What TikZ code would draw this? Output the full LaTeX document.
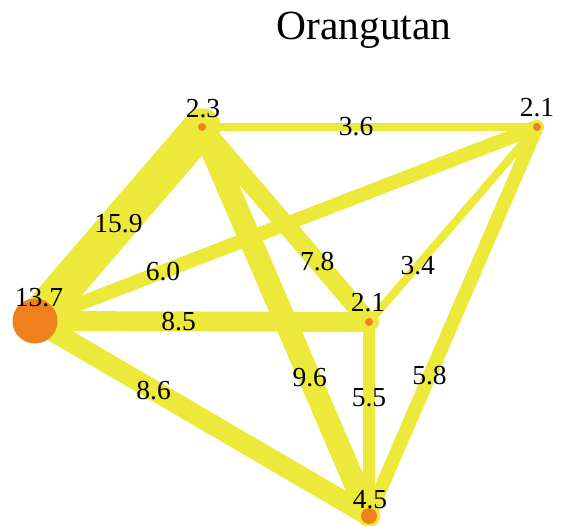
\documentclass[tikz,border=0pt]{standalone}
\usepackage{fontspec}
\setmainfont{Liberation Serif}
\usepackage{xcolor}
\usetikzlibrary{positioning}
\definecolor{edgeyellow}{RGB}{237,233,58}
\definecolor{dotorange}{RGB}{238,128,30}

\begin{document}
\begin{tikzpicture}[x=1pt,y=-1pt,
 edge/.style={draw=edgeyellow,line cap=round},
 lab/.style={inner sep=0pt,font=\fontsize{27.5}{30}\selectfont},
 dot/.style={circle,fill=dotorange,inner sep=0pt,minimum size=#1}]
\useasboundingbox (0,0) rectangle (563,526);
\node[anchor=base,font=\fontsize{41.5}{46}\selectfont] (title) at (364,40) {Orangutan};
% positions of the five sites
\coordinate (a) at (202,127);
\coordinate (b) at (537,127);
\coordinate (c) at (35,321);
\coordinate (d) at (369,322);
\coordinate (e) at (369,516);
% links, width from weight
\foreach \u/\v/\w/\p in {c/a/15.9/0.5, a/b/3.6/0.46, c/b/6.0/0.255, c/d/8.5/0.43,
 a/d/7.8/0.69, d/b/3.4/0.29, a/e/9.6/0.645, d/e/5.5/0.39, b/e/5.8/0.64, c/e/8.6/0.355}
 \draw[edge,line width=2.35*\w] (\u) -- (\v) node[lab,pos=\p] {\w};
% sites
\node[dot=45pt] (cn) at (c) {};
\node[dot=8pt] (an) at (a) {};
\node[dot=8pt] (bn) at (b) {};
\node[dot=8pt] (dn) at (d) {};
\node[dot=16pt] (en) at (e) {};
\node[lab] at (39,298) {13.7};
\node[lab] at (203,109) {2.3};
\node[lab] at (537,108) {2.1};
\node[lab] at (368,303) {2.1};
\node[lab] at (370,500) {4.5};
\end{tikzpicture}
\end{document}
